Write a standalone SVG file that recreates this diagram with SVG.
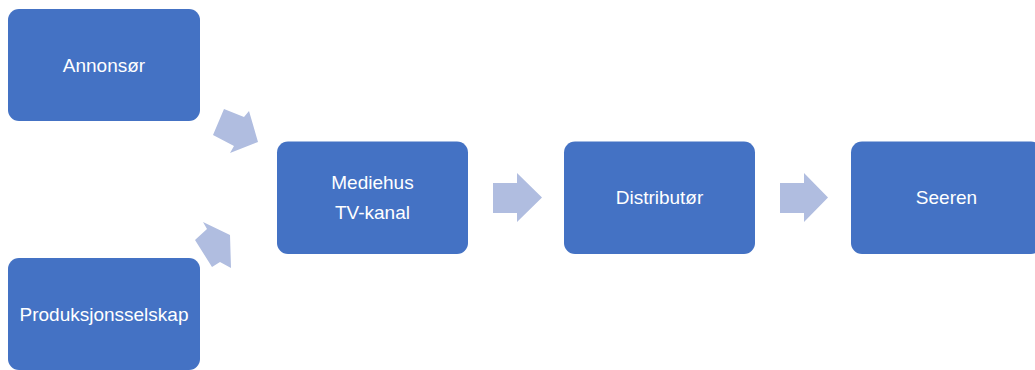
<svg xmlns="http://www.w3.org/2000/svg" width="1035" height="370" viewBox="0 0 1035 370">
<style>
.box{fill:#4472C4;}
.lbl{fill:#FFFFFF;font-family:"Liberation Sans",Arial,sans-serif;font-size:19px;text-anchor:middle;}
.arr{fill:#B0BDE0;}
</style>
<rect width="1035" height="370" fill="#FFFFFF"/>
<g id="connectors">
<polygon class="arr" points="224,109 244,117 249,111 258,142 230,153 234,146 213,135"/>
<polygon class="arr" points="203,222 230,235 231,268 220,262 212,267 195,240 207,229"/>
<polygon class="arr" points="493,183 517,183 517,173 542,197.5 517,222 517,213 493,213"/>
<polygon class="arr" points="780,183 804,183 804,173 828,197.5 804,222 804,213 780,213"/>
</g>
<g id="annonsor">
<rect class="box" x="8" y="9" width="192" height="112" rx="11"/>
<text class="lbl" x="104" y="72">Annonsør</text>
</g>
<g id="produksjonsselskap">
<rect class="box" x="8" y="258" width="192" height="112" rx="11"/>
<text class="lbl" x="104" y="321">Produksjonsselskap</text>
</g>
<g id="mediehus">
<rect class="box" x="277" y="141.5" width="191" height="112.5" rx="11"/>
<text class="lbl" x="372.5" y="189">Mediehus</text>
<text class="lbl" x="372.5" y="219">TV-kanal</text>
</g>
<g id="distributor">
<rect class="box" x="564" y="141.5" width="191" height="112.5" rx="11"/>
<text class="lbl" x="659.5" y="204">Distributør</text>
</g>
<g id="seeren">
<rect class="box" x="851" y="141.5" width="191" height="112.5" rx="11"/>
<text class="lbl" x="946.5" y="204">Seeren</text>
</g>
</svg>
